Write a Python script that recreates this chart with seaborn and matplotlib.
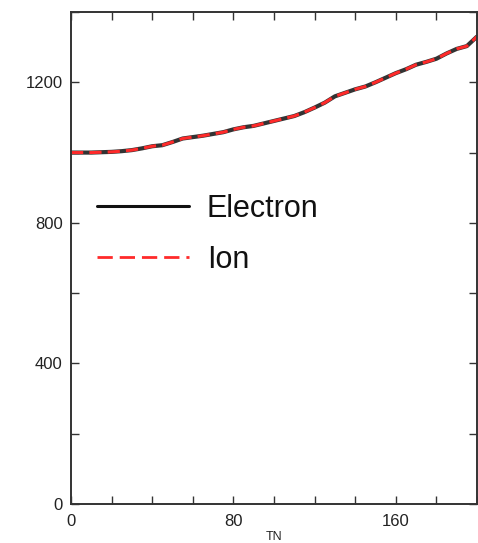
import matplotlib
matplotlib.use("Agg")
import matplotlib.pyplot as plt
from matplotlib.ticker import MultipleLocator
import seaborn as sns
import pandas as pd

# Temperature traces versus TN
tn = [0, 5, 10, 15, 20, 25, 30, 35, 40, 45, 50, 55, 60, 65, 70, 75, 80, 85, 90, 95,
      100, 105, 110, 115, 120, 125, 130, 135, 140, 145, 150, 155, 160, 165, 170, 175,
      180, 185, 190, 195, 200]
electron = [1000, 1000, 1000, 1001, 1002, 1004, 1007, 1012, 1018, 1021, 1030, 1040,
            1044, 1048, 1053, 1058, 1066, 1072, 1076, 1083, 1090, 1097, 1104, 1115,
            1128, 1142, 1160, 1170, 1180, 1188, 1200, 1213, 1226, 1237, 1250, 1258,
            1267, 1282, 1295, 1303, 1330]
ion = [1000, 1000, 1000, 1001, 1002, 1004, 1007, 1012, 1018, 1021, 1030, 1040,
       1044, 1048, 1053, 1058, 1066, 1072, 1076, 1083, 1090, 1097, 1104, 1115,
       1128, 1142, 1160, 1170, 1180, 1188, 1200, 1213, 1226, 1237, 1250, 1258,
       1267, 1282, 1295, 1303, 1330]

sns.set_style("ticks")
plt.rcParams["font.family"] = ["Liberation Sans", "DejaVu Sans"]

df_e = pd.DataFrame({"TN": tn, "T": electron})
df_i = pd.DataFrame({"TN": tn, "T": ion})

fig = plt.figure(figsize=(4.78, 5.43), dpi=100)
ax = fig.add_axes([71 / 478, 39 / 543, 406 / 478, 492 / 543])

sns.lineplot(data=df_e, x="TN", y="T", ax=ax, color="#333333", linewidth=3.0,
             label="Electron")
sns.lineplot(data=df_i, x="TN", y="T", ax=ax, color="#ff2a2a", linewidth=2.2,
             label="Ion")
ax.lines[1].set_dashes((4, 2))

ax.set_xlim(0, 200)
ax.set_ylim(0, 1400)
ax.xaxis.set_major_locator(MultipleLocator(80))
ax.xaxis.set_minor_locator(MultipleLocator(20))
ax.yaxis.set_major_locator(MultipleLocator(400))
ax.yaxis.set_minor_locator(MultipleLocator(200))
ax.tick_params(which="both", direction="in", top=True, right=True, length=6,
               width=1, color="#333333", labelsize=12, labelcolor="#222222")
ax.tick_params(axis="x", pad=7)
ax.tick_params(axis="y", pad=6)
for s in ax.spines.values():
    s.set_visible(True)
    s.set_linewidth(1.4)
    s.set_color("#333333")

ax.set_xlabel("TN", fontsize=9, labelpad=2, color="#222222")
ax.set_ylabel("")

leg = ax.legend(loc="center left", bbox_to_anchor=(0.064, 0.548), frameon=False,
                fontsize=22, handlelength=3.0, handletextpad=0.6, labelspacing=0.7,
                borderpad=0, borderaxespad=0)
for t in leg.get_texts():
    t.set_color("#111111")
lines = leg.get_lines()
lines[0].set_linewidth(2.2)
lines[0].set_color("#111111")
lines[1].set_linewidth(2.0)
lines[1].set_dashes((5.5, 2.5))

fig.savefig("out.png", dpi=100)
